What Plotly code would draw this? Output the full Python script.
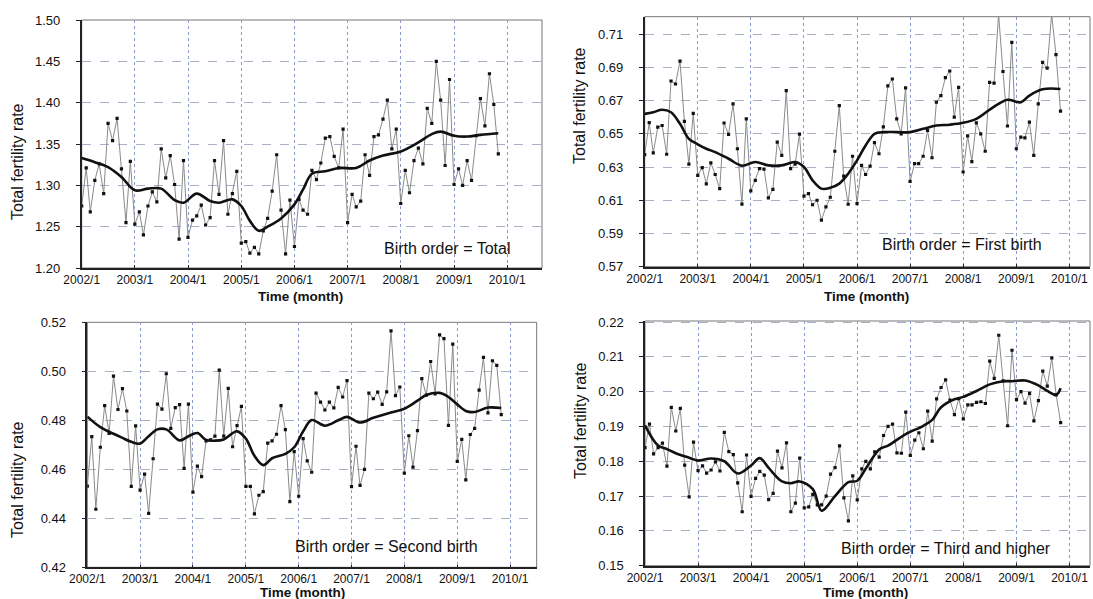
import pandas as pd
import plotly.graph_objects as go

# ---------------- data (monthly, 2002/1 .. 2009/11) ----------------
start = "2002-01-01"
n_months = 95

total_vals = [1.275, 1.321, 1.268, 1.306, 1.326, 1.290, 1.375, 1.354, 1.381, 1.320,
              1.255, 1.329, 1.253, 1.268, 1.240, 1.275, 1.292, 1.280, 1.344, 1.309,
              1.336, 1.301, 1.235, 1.330, 1.237, 1.258, 1.263, 1.276, 1.252, 1.261,
              1.330, 1.289, 1.354, 1.265, 1.290, 1.317, 1.230, 1.232, 1.218, 1.225,
              1.217, 1.245, 1.260, 1.293, 1.337, 1.270, 1.217, 1.282, 1.226, 1.283,
              1.270, 1.265, 1.318, 1.307, 1.327, 1.357, 1.359, 1.335, 1.321, 1.368,
              1.255, 1.289, 1.274, 1.281, 1.337, 1.312, 1.359, 1.361, 1.380, 1.403,
              1.344, 1.368, 1.278, 1.318, 1.291, 1.330, 1.345, 1.326, 1.393, 1.375,
              1.450, 1.403, 1.324, 1.428, 1.301, 1.320, 1.300, 1.330, 1.306, 1.360,
              1.405, 1.372, 1.435, 1.398, 1.338]

first_vals = [0.6375, 0.6567, 0.6385, 0.654, 0.655, 0.6377, 0.6818, 0.680, 0.6938, 0.6575,
              0.6317, 0.6623, 0.625, 0.6296, 0.6199, 0.6325, 0.6255, 0.617, 0.6565, 0.6496,
              0.668, 0.641, 0.6077, 0.659, 0.6156, 0.622, 0.629, 0.6288, 0.6114, 0.6166,
              0.645, 0.637, 0.676, 0.629, 0.6317, 0.6498, 0.6125, 0.614, 0.6073, 0.610,
              0.598, 0.606, 0.6118, 0.6395, 0.667, 0.6245, 0.6076, 0.6365, 0.608, 0.631,
              0.6255, 0.6305, 0.6447, 0.638, 0.6542, 0.6788, 0.683, 0.659, 0.650, 0.6777,
              0.6214, 0.632, 0.632, 0.6365, 0.652, 0.6356, 0.669, 0.673, 0.6838, 0.6878,
              0.660, 0.678, 0.627, 0.6488, 0.6333, 0.6566, 0.650, 0.6395, 0.681, 0.6805,
              0.722, 0.6875, 0.6547, 0.705, 0.641, 0.648, 0.6475, 0.657, 0.637, 0.668,
              0.693, 0.6896, 0.722, 0.6977, 0.6637]

second_vals = [0.4531, 0.4733, 0.4437, 0.469, 0.486, 0.4747, 0.498, 0.4844, 0.4929, 0.4838,
               0.453, 0.4777, 0.4515, 0.458, 0.442, 0.4643, 0.4866, 0.4846, 0.499, 0.4767,
               0.4852, 0.4864, 0.4604, 0.4866, 0.4507, 0.4613, 0.457, 0.4716, 0.4720, 0.4735,
               0.5005, 0.4735, 0.493, 0.4692, 0.4778, 0.4857, 0.453, 0.453, 0.4418, 0.4494,
               0.4509, 0.4707, 0.4716, 0.4743, 0.486, 0.4762, 0.4468, 0.4672, 0.449, 0.4725,
               0.4634, 0.4588, 0.4911, 0.4874, 0.4842, 0.4874, 0.4851, 0.4934, 0.4895, 0.4962,
               0.4529, 0.4694, 0.4534, 0.460, 0.4911, 0.4888, 0.4915, 0.4865, 0.4916, 0.5165,
               0.4901, 0.4936, 0.4584, 0.4737, 0.4609, 0.4758, 0.497, 0.4903, 0.504, 0.4908,
               0.5149, 0.5133, 0.4779, 0.5111, 0.4632, 0.4722, 0.4557, 0.4742, 0.4767, 0.4923,
               0.5057, 0.483, 0.5043, 0.5024, 0.4823]

third_vals = [0.1839, 0.1907, 0.1821, 0.1839, 0.1852, 0.1786, 0.1955, 0.1887, 0.1952, 0.1789,
              0.1698, 0.1855, 0.1773, 0.1787, 0.1766, 0.1775, 0.1798, 0.1772, 0.1883, 0.1828,
              0.1819, 0.1738, 0.1655, 0.1818, 0.1699, 0.1751, 0.1771, 0.1760, 0.1690, 0.1708,
              0.1829, 0.1781, 0.1853, 0.1655, 0.168, 0.1809, 0.1666, 0.1669, 0.1705, 0.1675,
              0.1675, 0.170, 0.1763, 0.1782, 0.1844, 0.1695, 0.1629, 0.1758, 0.1689, 0.1778,
              0.180, 0.1778, 0.1827, 0.1812, 0.1874, 0.190, 0.1907, 0.1824, 0.1823, 0.1941,
              0.1817, 0.1861, 0.1882, 0.1836, 0.1944, 0.1858, 0.1979, 0.2012, 0.2034, 0.1976,
              0.1934, 0.198, 0.1922, 0.1962, 0.1962, 0.1969, 0.1971, 0.1966, 0.2088, 0.2038,
              0.2162, 0.2031, 0.1902, 0.2119, 0.1977, 0.200, 0.1967, 0.1995, 0.1916, 0.1974,
              0.2059, 0.2016, 0.2097, 0.1991, 0.1911]

# smoothed trend, read at selected months (month index from 2002/1)
total_trend_m = [0, 3, 6, 9, 12, 15, 18, 21, 23, 26, 29, 31, 34, 36, 38, 40, 42, 45, 48, 50,
                 52, 55, 58, 62, 65, 68, 72, 76, 79, 81, 84, 87, 90, 94]
total_trend_v = [1.333, 1.328, 1.322, 1.310, 1.294, 1.296, 1.296, 1.282, 1.279, 1.290,
                 1.281, 1.279, 1.283, 1.275, 1.257, 1.245, 1.250, 1.260, 1.277, 1.295,
                 1.314, 1.317, 1.321, 1.321, 1.330, 1.336, 1.341, 1.352, 1.362, 1.365,
                 1.360, 1.359, 1.361, 1.363]

first_trend_m = [0, 2, 4, 6, 8, 10, 12, 14, 16, 19, 22, 25, 28, 31, 34, 36, 38, 40, 42, 44,
                 46, 48, 50, 52, 54, 57, 60, 63, 66, 69, 72, 75, 78, 80, 82, 85, 87, 90, 94]
first_trend_v = [0.662, 0.663, 0.6645, 0.663, 0.656, 0.647, 0.6437, 0.641, 0.639, 0.635,
                 0.6308, 0.633, 0.631, 0.631, 0.633, 0.630, 0.622, 0.617, 0.6175, 0.620,
                 0.626, 0.634, 0.643, 0.650, 0.651, 0.651, 0.651, 0.653, 0.655, 0.6555,
                 0.6566, 0.659, 0.6645, 0.668, 0.6705, 0.669, 0.673, 0.6768, 0.677]

second_trend_m = [0, 3, 6, 8, 10, 12, 14, 16, 18, 21, 23, 25, 27, 29, 31, 34, 36, 38, 40, 42,
                  45, 47, 49, 51, 54, 57, 59, 62, 65, 69, 72, 75, 77, 80, 82, 84, 86, 88, 91, 94]
second_trend_v = [0.4815, 0.4772, 0.4745, 0.4728, 0.4712, 0.4705, 0.4735, 0.4763, 0.4763, 0.4718,
                  0.4735, 0.4748, 0.4720, 0.4717, 0.4722, 0.4755, 0.4725, 0.4655, 0.4617, 0.4645,
                  0.4663, 0.4690, 0.4755, 0.4801, 0.4778, 0.4800, 0.4814, 0.4791, 0.4810, 0.4832,
                  0.4847, 0.4880, 0.4903, 0.4912, 0.4895, 0.4865, 0.4838, 0.4834, 0.4852, 0.4850]

third_trend_m = [0, 3, 5, 7, 10, 12, 15, 18, 21, 24, 26, 28, 31, 33, 35, 38, 40, 43, 46, 48,
                 50, 53, 55, 59, 63, 65, 67, 70, 72, 75, 78, 81, 83, 86, 89, 91, 93, 94]
third_trend_v = [0.1903, 0.1845, 0.1835, 0.1823, 0.1810, 0.1802, 0.1808, 0.1800, 0.1765, 0.1788,
                 0.1809, 0.1781, 0.1742, 0.1737, 0.1742, 0.1720, 0.1658, 0.1700, 0.1740, 0.1744,
                 0.1779, 0.1834, 0.1845, 0.1878, 0.1902, 0.1919, 0.1955, 0.1978, 0.1985, 0.2002,
                 0.2021, 0.2030, 0.2030, 0.2032, 0.2018, 0.2002, 0.1991, 0.2010]

year_ticks = ["2002-01-01", "2003-01-01", "2004-01-01", "2005-01-01", "2006-01-01",
              "2007-01-01", "2008-01-01", "2009-01-01", "2010-01-01"]
year_labels = ["2002/1", "2003/1", "2004/1", "2005/1", "2006/1", "2007/1", "2008/1",
               "2009/1", "2010/1"]

labels = ["Birth order = Total", "Birth order = First birth",
          "Birth order = Second birth", "Birth order = Third and higher"]

# ---------------- figure ----------------
W, H = 1093, 599
dates = pd.date_range(start, periods=n_months, freq="MS")
t0 = pd.Timestamp(start)


def mdates(ms):
    return [t0 + pd.DateOffset(months=int(m)) for m in ms]


panels = [
    dict(vals=total_vals, tm=total_trend_m, tv=total_trend_v,
         xdom=(81.7, 542), ydom=(20, 268), yr=(1.20, 1.50), dt=0.05,
         xend="2010-08-28", label_xy=(447, 248), title_xy=(300, 296.5), ytitle_xy=(17, 162)),
    dict(vals=first_vals, tm=first_trend_m, tv=first_trend_v,
         xdom=(644.7, 1090), ydom=(16.7, 266.7), yr=(0.57, 0.7205), dt=0.02,
         xend="2010-05-23", label_xy=(962, 245), title_xy=(866, 296.5), ytitle_xy=(580, 106)),
    dict(vals=second_vals, tm=second_trend_m, tv=second_trend_v,
         xdom=(87.3, 536.7), ydom=(322.3, 567.3), yr=(0.42, 0.52), dt=0.02,
         xend="2010-07-04", label_xy=(386, 546), title_xy=(302, 592.5), ytitle_xy=(17, 480)),
    dict(vals=third_vals, tm=third_trend_m, tv=third_trend_v,
         xdom=(645, 1090), ydom=(321, 565.7), yr=(0.15, 0.2203), dt=0.01,
         xend="2010-05-22", label_xy=(946, 548), title_xy=(865, 592), ytitle_xy=(580, 421)),
]

fig = go.Figure()
annotations = []
shapes = []
font_main = "Liberation Sans, Arial, sans-serif"

for i, p in enumerate(panels):
    k = "" if i == 0 else str(i + 1)
    xa, ya = "x" + k, "y" + k
    fig.add_trace(go.Scatter(
        x=dates, y=p["vals"], xaxis=xa, yaxis=ya, mode="lines+markers",
        line=dict(color="#8a8a8a", width=1),
        marker=dict(symbol="square", size=3.2, color="#111111"),
        showlegend=False, cliponaxis=True))
    fig.add_trace(go.Scatter(
        x=mdates(p["tm"]), y=p["tv"], xaxis=xa, yaxis=ya, mode="lines",
        line=dict(color="#111111", width=2.6, shape="spline", smoothing=1.0),
        showlegend=False))

    x0, x1 = p["xdom"]
    ytop, ybot = p["ydom"]
    lo, hi = p["yr"]
    nt = int(round((hi - lo) / p["dt"] + 1e-6))
    yticks = [round(lo + j * p["dt"], 4) for j in range(nt + 1)]
    fig.layout["xaxis" + k] = dict(
        domain=[x0 / W, x1 / W], anchor=ya, type="date", automargin=False,
        range=[start, p["xend"]], tickvals=year_ticks, ticktext=year_labels,
        showgrid=True, gridcolor="#8a9acb", griddash="dot", gridwidth=1,
        showline=True, linecolor="#222222", linewidth=1.5,
        ticks="inside", ticklen=3, tickcolor="#222222",
        tickfont=dict(family=font_main, size=12, color="#111111"),
        zeroline=False)
    fig.layout["yaxis" + k] = dict(
        domain=[1 - ybot / H, 1 - ytop / H], anchor=xa, automargin=False,
        range=[lo, hi], tickvals=yticks, ticktext=[f"{v:.2f}" for v in yticks],
        showgrid=True, gridcolor="#a8b0c8", griddash="dash", gridwidth=1,
        showline=True, linecolor="#222222", linewidth=1.5,
        ticks="outside", ticklen=4, tickcolor="#222222", ticklabelstandoff=13,
        tickfont=dict(family=font_main, size=13, color="#111111"),
        zeroline=False)
    shapes.append(dict(type="rect", xref=xa + " domain", yref=ya + " domain",
                       x0=0, x1=1, y0=0, y1=1, line=dict(color="#777777", width=1),
                       layer="below"))
    lx, ly = p["label_xy"]
    annotations.append(dict(text=labels[i], x=lx / W, y=1 - ly / H, xref="paper",
                            yref="paper", showarrow=False, xanchor="center",
                            yanchor="middle",
                            font=dict(family=font_main, size=16, color="#111111")))
    tx, ty = p["title_xy"]
    annotations.append(dict(text="<b>Time (month)</b>", x=tx / W, y=1 - ty / H,
                            xref="paper", yref="paper", showarrow=False,
                            xanchor="center", yanchor="middle", borderpad=0,
                            font=dict(family=font_main, size=13.5, color="#111111")))
    yx, yy = p["ytitle_xy"]
    annotations.append(dict(text="Total fertility rate", x=yx / W, y=1 - yy / H,
                            xref="paper", yref="paper", showarrow=False, textangle=-90,
                            xanchor="center", yanchor="middle",
                            font=dict(family="Liberation Sans Narrow, Arial Narrow, sans-serif",
                                      size=16, color="#111111")))

fig.update_layout(
    width=W, height=H, margin=dict(l=0, r=0, t=0, b=0),
    paper_bgcolor="white", plot_bgcolor="white",
    annotations=annotations, shapes=shapes, showlegend=False)

fig.write_html("out.html")
